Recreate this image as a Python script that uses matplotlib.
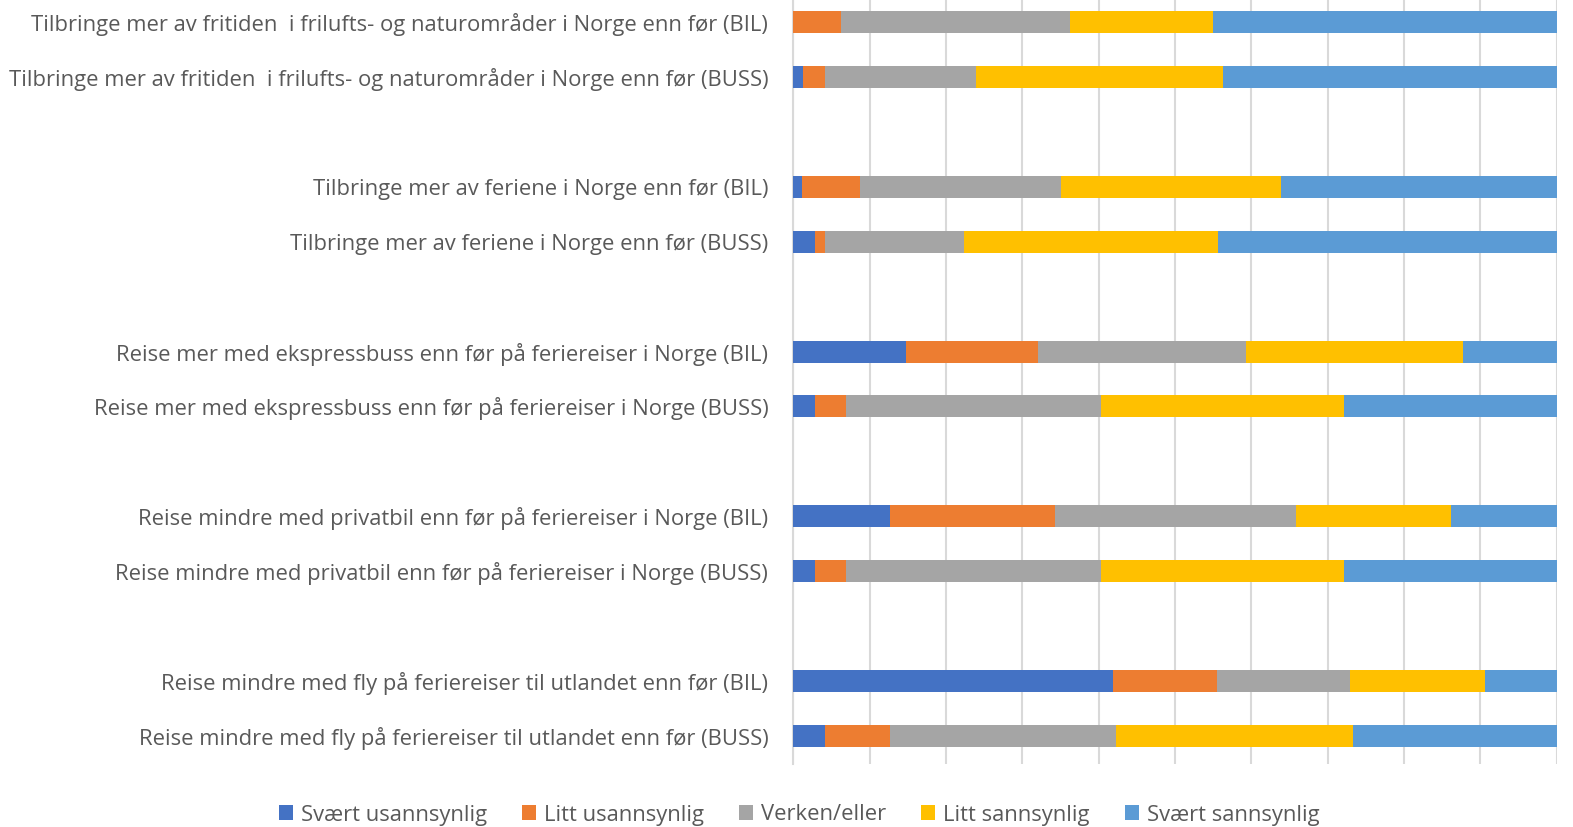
import matplotlib
matplotlib.use("Agg")
import matplotlib.pyplot as plt
from matplotlib.patches import Patch
import numpy as np

nan = np.nan

# Categories, top to bottom (blank rows separate the groups)
categories = [
    "Tilbringe mer av fritiden  i frilufts- og naturområder i Norge enn før (BIL)",
    "Tilbringe mer av fritiden  i frilufts- og naturområder i Norge enn før (BUSS)",
    "",
    "Tilbringe mer av feriene i Norge enn før (BIL)",
    "Tilbringe mer av feriene i Norge enn før (BUSS)",
    "",
    "Reise mer med ekspressbuss enn før på feriereiser i Norge (BIL)",
    "Reise mer med ekspressbuss enn før på feriereiser i Norge (BUSS)",
    "",
    "Reise mindre med privatbil enn før på feriereiser i Norge (BIL)",
    "Reise mindre med privatbil enn før på feriereiser i Norge (BUSS)",
    "",
    "Reise mindre med fly på feriereiser til utlandet enn før (BIL)",
    "Reise mindre med fly på feriereiser til utlandet enn før (BUSS)",
]

series_names = ["Svært usannsynlig", "Litt usannsynlig", "Verken/eller",
                "Litt sannsynlig", "Svært sannsynlig"]

svaert_usannsynlig = [0.0, 1.3, nan, 1.2, 2.8, nan, 14.7, 2.8, nan, 12.7, 2.8, nan, 41.9, 4.2]
litt_usannsynlig   = [6.3, 2.9, nan, 7.6, 1.4, nan, 17.4, 4.1, nan, 21.6, 4.1, nan, 13.5, 8.5]
verken_eller       = [29.9, 19.8, nan, 26.3, 18.1, nan, 27.2, 33.5, nan, 31.6, 33.5, nan, 17.5, 29.6]
litt_sannsynlig    = [18.8, 32.4, nan, 28.8, 33.3, nan, 28.4, 31.8, nan, 20.3, 31.8, nan, 17.6, 31.0]
svaert_sannsynlig  = [45.0, 43.7, nan, 36.1, 44.4, nan, 12.3, 27.9, nan, 13.9, 27.9, nan, 9.4, 26.7]

colors = ["#4472C4", "#ED7D31", "#A5A5A5", "#FFC000", "#5B9BD5"]

data = np.array([svaert_usannsynlig, litt_usannsynlig, verken_eller,
                 litt_sannsynlig, svaert_sannsynlig], dtype=float)
totals = np.nansum(data, axis=0)
totals[totals == 0] = 1
pct = data / totals * 100.0

W, H = 1573, 827
fig = plt.figure(figsize=(W / 100, H / 100), dpi=100)
ax_left, ax_right = 793.3, 1556.7
ax_top, ax_bottom = -5.8, 763.8
ax = fig.add_axes([ax_left / W, (H - ax_bottom) / H,
                   (ax_right - ax_left) / W, (ax_bottom - ax_top) / H])

y = np.arange(len(categories))
left = np.zeros(len(categories))
for vals, col, name in zip(pct, colors, series_names):
    v = np.nan_to_num(vals)
    ax.barh(y, v, left=left, height=0.4, color=col, label=name, zorder=3)
    left += v

ax.set_xlim(0, 100)
ax.set_ylim(len(categories) - 0.5, -0.5)
ax.set_xticks(np.arange(0, 101, 10))
ax.set_xticklabels([])
ax.tick_params(axis="x", length=0)
ax.grid(axis="x", color="#D9D9D9", linewidth=1.5, zorder=0)
for s in ["top", "right", "bottom"]:
    ax.spines[s].set_visible(False)
ax.spines["left"].set_color("#D9D9D9")
ax.spines["left"].set_linewidth(1.5)

family = ["Open Sans", "DejaVu Sans"]
fs0 = 14
ax.set_yticks(y)
ax.set_yticklabels(categories, fontsize=fs0, color="#595959", family=family)
ax.tick_params(axis="y", length=0, pad=18)

# fit label size so the widest label spans like in the reference
fig.canvas.draw()
r = fig.canvas.get_renderer()
wmax = max(t.get_window_extent(r).width for t in ax.get_yticklabels() if t.get_text())
target = 793.3 - 18 * 100 / 72 - 8
fs = fs0 * target / wmax
for t in ax.get_yticklabels():
    t.set_fontsize(fs)

handles = [Patch(facecolor=c, edgecolor="none", label=n) for c, n in zip(colors, series_names)]
leg = fig.legend(handles=handles, loc="center", bbox_to_anchor=(799 / W, 1 - 815 / H),
                 ncol=5, frameon=False, handlelength=0.65, handleheight=0.65,
                 handletextpad=0.35, columnspacing=1.6,
                 prop={"family": family, "size": fs})
for t in leg.get_texts():
    t.set_color("#595959")

fig.savefig("out.png", dpi=100)
